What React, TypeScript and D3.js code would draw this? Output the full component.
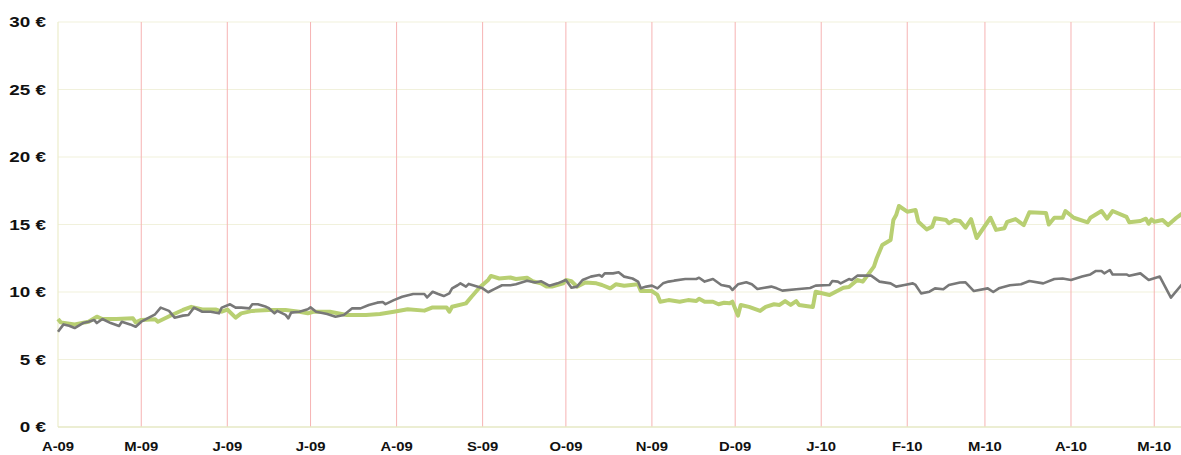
import { useEffect, useRef } from "react";
import * as d3 from "d3";

// Monthly tick labels (first day of each month)
const MONTH_TICKS = [
  "2009-04-01", "2009-05-01", "2009-06-01", "2009-07-01", "2009-08-01",
  "2009-09-01", "2009-10-01", "2009-11-01", "2009-12-01", "2010-01-01",
  "2010-02-01", "2010-03-01", "2010-04-01", "2010-05-01",
];
const MONTH_LABELS = [
  "A-09", "M-09", "J-09", "J-09", "A-09", "S-09", "O-09",
  "N-09", "D-09", "J-10", "F-10", "M-10", "A-10", "M-10",
];
const Y_TICKS = [0, 5, 10, 15, 20, 25, 30];

// green series (thick)
const GREEN: [string, number][] = [
  ["2009-04-01", 8.0], ["2009-04-02", 7.75], ["2009-04-07", 7.6], ["2009-04-12", 7.8],
  ["2009-04-15", 8.17], ["2009-04-17", 8.0], ["2009-04-22", 8.0], ["2009-04-28", 8.05],
  ["2009-04-29", 7.75], ["2009-05-01", 7.93], ["2009-05-06", 7.98], ["2009-05-07", 7.8],
  ["2009-05-12", 8.3], ["2009-05-16", 8.67], ["2009-05-19", 8.9], ["2009-05-23", 8.7],
  ["2009-05-28", 8.7], ["2009-05-30", 8.54], ["2009-06-01", 8.7], ["2009-06-04", 8.1],
  ["2009-06-06", 8.42], ["2009-06-10", 8.6], ["2009-06-16", 8.67], ["2009-06-22", 8.67],
  ["2009-06-24", 8.62], ["2009-06-27", 8.54], ["2009-06-30", 8.42], ["2009-07-02", 8.54],
  ["2009-07-08", 8.54], ["2009-07-14", 8.3], ["2009-07-21", 8.3], ["2009-07-26", 8.37],
  ["2009-07-31", 8.54], ["2009-08-05", 8.72], ["2009-08-11", 8.62], ["2009-08-14", 8.86],
  ["2009-08-19", 8.86], ["2009-08-20", 8.54], ["2009-08-21", 8.91], ["2009-08-26", 9.16],
  ["2009-08-28", 9.65], ["2009-08-31", 10.35], ["2009-09-03", 10.89], ["2009-09-04", 11.19],
  ["2009-09-07", 11.0], ["2009-09-11", 11.07], ["2009-09-13", 10.96], ["2009-09-17", 11.06],
  ["2009-09-19", 10.8], ["2009-09-22", 10.64], ["2009-09-24", 10.4], ["2009-09-26", 10.4],
  ["2009-09-30", 10.64], ["2009-10-01", 10.89], ["2009-10-03", 10.8], ["2009-10-05", 10.4],
  ["2009-10-08", 10.7], ["2009-10-12", 10.64], ["2009-10-14", 10.52], ["2009-10-17", 10.27],
  ["2009-10-19", 10.57], ["2009-10-22", 10.47], ["2009-10-27", 10.57], ["2009-10-28", 10.07],
  ["2009-11-01", 10.07], ["2009-11-03", 9.78], ["2009-11-04", 9.28], ["2009-11-07", 9.4],
  ["2009-11-11", 9.28], ["2009-11-14", 9.4], ["2009-11-17", 9.33], ["2009-11-18", 9.5],
  ["2009-11-20", 9.28], ["2009-11-23", 9.28], ["2009-11-25", 9.09], ["2009-11-27", 9.2],
  ["2009-11-29", 9.16], ["2009-11-30", 9.28], ["2009-12-02", 8.25], ["2009-12-03", 9.04],
  ["2009-12-06", 8.9], ["2009-12-10", 8.6], ["2009-12-12", 8.9], ["2009-12-15", 9.09],
  ["2009-12-17", 9.04], ["2009-12-19", 9.33], ["2009-12-21", 9.04], ["2009-12-23", 9.33],
  ["2009-12-24", 9.04], ["2009-12-29", 8.89], ["2009-12-30", 10.02], ["2010-01-04", 9.78],
  ["2010-01-09", 10.32], ["2010-01-11", 10.37], ["2010-01-14", 10.89], ["2010-01-16", 10.77],
  ["2010-01-20", 11.88], ["2010-01-21", 12.5], ["2010-01-23", 13.48], ["2010-01-26", 13.85],
  ["2010-01-27", 15.33], ["2010-01-28", 15.7], ["2010-01-29", 16.37], ["2010-02-01", 15.95],
  ["2010-02-04", 16.07], ["2010-02-05", 15.2], ["2010-02-08", 14.64], ["2010-02-10", 14.84],
  ["2010-02-11", 15.46], ["2010-02-15", 15.33], ["2010-02-16", 15.1], ["2010-02-18", 15.33],
  ["2010-02-20", 15.26], ["2010-02-22", 14.77], ["2010-02-24", 15.4], ["2010-02-26", 14.0],
  ["2010-03-03", 15.5], ["2010-03-05", 14.6], ["2010-03-08", 14.72], ["2010-03-09", 15.2],
  ["2010-03-12", 15.4], ["2010-03-15", 14.96], ["2010-03-17", 15.9], ["2010-03-23", 15.85],
  ["2010-03-24", 15.0], ["2010-03-26", 15.5], ["2010-03-29", 15.5], ["2010-03-30", 16.0],
  ["2010-04-02", 15.5], ["2010-04-07", 15.16], ["2010-04-08", 15.5], ["2010-04-12", 16.0],
  ["2010-04-14", 15.43], ["2010-04-16", 16.0], ["2010-04-21", 15.56], ["2010-04-22", 15.16],
  ["2010-04-26", 15.26], ["2010-04-28", 15.43], ["2010-04-29", 15.06], ["2010-04-30", 15.38],
  ["2010-05-01", 15.2], ["2010-05-04", 15.33], ["2010-05-06", 14.96], ["2010-05-09", 15.5],
  ["2010-05-11", 15.8],
];

// gray series (thin)
const GRAY: [string, number][] = [
  ["2009-04-01", 7.06], ["2009-04-03", 7.6], ["2009-04-05", 7.5], ["2009-04-07", 7.33],
  ["2009-04-10", 7.7], ["2009-04-12", 7.8], ["2009-04-14", 7.93], ["2009-04-15", 7.7],
  ["2009-04-17", 8.0], ["2009-04-20", 7.7], ["2009-04-23", 7.48], ["2009-04-24", 7.8],
  ["2009-04-27", 7.6], ["2009-04-29", 7.43], ["2009-05-01", 7.8], ["2009-05-06", 8.35],
  ["2009-05-08", 8.84], ["2009-05-11", 8.6], ["2009-05-13", 8.1], ["2009-05-16", 8.25],
  ["2009-05-18", 8.3], ["2009-05-20", 8.84], ["2009-05-23", 8.54], ["2009-05-26", 8.54],
  ["2009-05-29", 8.42], ["2009-05-30", 8.84], ["2009-06-02", 9.09], ["2009-06-04", 8.84],
  ["2009-06-06", 8.84], ["2009-06-09", 8.79], ["2009-06-10", 9.09], ["2009-06-12", 9.09],
  ["2009-06-15", 8.9], ["2009-06-16", 8.8], ["2009-06-18", 8.42], ["2009-06-19", 8.6],
  ["2009-06-22", 8.3], ["2009-06-23", 8.05], ["2009-06-24", 8.47], ["2009-06-27", 8.54],
  ["2009-06-30", 8.72], ["2009-07-01", 8.86], ["2009-07-03", 8.54], ["2009-07-07", 8.37],
  ["2009-07-10", 8.17], ["2009-07-13", 8.3], ["2009-07-16", 8.79], ["2009-07-19", 8.79],
  ["2009-07-22", 9.04], ["2009-07-25", 9.21], ["2009-07-27", 9.26], ["2009-07-28", 9.1],
  ["2009-07-31", 9.4], ["2009-08-03", 9.65], ["2009-08-07", 9.85], ["2009-08-11", 9.85],
  ["2009-08-12", 9.6], ["2009-08-14", 10.02], ["2009-08-16", 9.85], ["2009-08-18", 9.7],
  ["2009-08-20", 9.9], ["2009-08-21", 10.27], ["2009-08-23", 10.5], ["2009-08-24", 10.64],
  ["2009-08-26", 10.4], ["2009-08-27", 10.6], ["2009-08-30", 10.4], ["2009-09-01", 10.27],
  ["2009-09-03", 9.98], ["2009-09-05", 10.2], ["2009-09-08", 10.5], ["2009-09-11", 10.5],
  ["2009-09-13", 10.57], ["2009-09-17", 10.84], ["2009-09-20", 10.7], ["2009-09-22", 10.8],
  ["2009-09-25", 10.47], ["2009-09-28", 10.64], ["2009-10-01", 10.89], ["2009-10-03", 10.32],
  ["2009-10-05", 10.4], ["2009-10-07", 10.89], ["2009-10-10", 11.14], ["2009-10-13", 11.26],
  ["2009-10-14", 11.14], ["2009-10-15", 11.38], ["2009-10-18", 11.38], ["2009-10-20", 11.46],
  ["2009-10-22", 11.14], ["2009-10-25", 11.0], ["2009-10-27", 10.77], ["2009-10-28", 10.27],
  ["2009-10-30", 10.4], ["2009-11-01", 10.47], ["2009-11-03", 10.27], ["2009-11-05", 10.64],
  ["2009-11-07", 10.77], ["2009-11-09", 10.84], ["2009-11-13", 10.96], ["2009-11-17", 10.96],
  ["2009-11-18", 11.06], ["2009-11-20", 10.77], ["2009-11-23", 10.96], ["2009-11-26", 10.52],
  ["2009-11-29", 10.4], ["2009-11-30", 10.15], ["2009-12-02", 10.57], ["2009-12-05", 10.72],
  ["2009-12-07", 10.57], ["2009-12-09", 10.22], ["2009-12-11", 10.3], ["2009-12-14", 10.4],
  ["2009-12-16", 10.27], ["2009-12-18", 10.1], ["2009-12-23", 10.2], ["2009-12-28", 10.3],
  ["2009-12-30", 10.47], ["2010-01-04", 10.52], ["2010-01-05", 10.81], ["2010-01-07", 10.77],
  ["2010-01-08", 10.64], ["2010-01-11", 10.96], ["2010-01-12", 10.89], ["2010-01-14", 11.21],
  ["2010-01-19", 11.21], ["2010-01-22", 10.77], ["2010-01-26", 10.64], ["2010-01-28", 10.4],
  ["2010-01-31", 10.52], ["2010-02-03", 10.64], ["2010-02-04", 10.52], ["2010-02-06", 9.9],
  ["2010-02-09", 10.02], ["2010-02-11", 10.27], ["2010-02-14", 10.2], ["2010-02-16", 10.52],
  ["2010-02-20", 10.7], ["2010-02-22", 10.72], ["2010-02-25", 10.07], ["2010-03-02", 10.27],
  ["2010-03-04", 10.0], ["2010-03-06", 10.27], ["2010-03-10", 10.5], ["2010-03-14", 10.57],
  ["2010-03-17", 10.81], ["2010-03-22", 10.64], ["2010-03-26", 10.96], ["2010-03-29", 11.0],
  ["2010-04-01", 10.89], ["2010-04-05", 11.14], ["2010-04-08", 11.3], ["2010-04-10", 11.56],
  ["2010-04-12", 11.56], ["2010-04-13", 11.38], ["2010-04-15", 11.63], ["2010-04-16", 11.3],
  ["2010-04-21", 11.3], ["2010-04-22", 11.2], ["2010-04-26", 11.38], ["2010-04-29", 10.89],
  ["2010-05-03", 11.14], ["2010-05-07", 9.58], ["2010-05-11", 10.57],
];

const WIDTH = 1181;
const HEIGHT = 455;
const MARGIN = { top: 22, right: 0, bottom: 28, left: 58 };
const START = "2009-04-01";
const END = "2010-05-11";
const FONT = "'Liberation Sans', Arial, sans-serif";

export default function App() {
  const svgRef = useRef<SVGSVGElement | null>(null);

  useEffect(() => {
    const svg = svgRef.current;
    if (!svg) return;
    svg.innerHTML = "";

    const parse = d3.timeParse("%Y-%m-%d");
    const innerH = HEIGHT - MARGIN.top - MARGIN.bottom;

    const x = d3
      .scaleTime()
      .domain([parse(START)!, parse(END)!])
      .range([MARGIN.left, WIDTH + 1]);
    const y = d3
      .scaleLinear()
      .domain([0, 30])
      .range([MARGIN.top + innerH, MARGIN.top]);

    const root = d3.select(svg);

    // horizontal grid
    root
      .append("g")
      .selectAll("line")
      .data(Y_TICKS.filter((t) => t > 0))
      .join("line")
      .attr("x1", MARGIN.left)
      .attr("x2", WIDTH)
      .attr("y1", (d) => y(d))
      .attr("y2", (d) => y(d))
      .attr("stroke", "#f1f1dc")
      .attr("stroke-width", 1.2);

    // vertical month lines
    root
      .append("g")
      .selectAll("line")
      .data(MONTH_TICKS.slice(1))
      .join("line")
      .attr("x1", (d) => x(parse(d)!))
      .attr("x2", (d) => x(parse(d)!))
      .attr("y1", y(30))
      .attr("y2", y(0))
      .attr("stroke", "#f6b3b3")
      .attr("stroke-width", 1);

    // axes lines
    root
      .append("line")
      .attr("x1", MARGIN.left)
      .attr("x2", MARGIN.left)
      .attr("y1", y(30))
      .attr("y2", y(0))
      .attr("stroke", "#ecedcc")
      .attr("stroke-width", 1.2);
    root
      .append("line")
      .attr("x1", MARGIN.left)
      .attr("x2", WIDTH)
      .attr("y1", y(0))
      .attr("y2", y(0))
      .attr("stroke", "#e6e8c4")
      .attr("stroke-width", 1.5);

    // y labels
    root
      .append("g")
      .selectAll("text")
      .data(Y_TICKS)
      .join("text")
      .attr("transform", (d) => `translate(46,${y(d) + 5}) scale(1.3,1)`)
      .attr("text-anchor", "end")
      .style("font-family", FONT)
      .style("font-weight", "bold")
      .style("font-size", "14.5px")
      .attr("fill", "#111")
      .text((d) => `${d} €`);

    // x labels
    root
      .append("g")
      .selectAll("text")
      .data(MONTH_TICKS)
      .join("text")
      .attr("transform", (d) => `translate(${x(parse(d)!)},${y(0) + 24}) scale(1.1,1)`)
      .attr("text-anchor", "middle")
      .style("font-family", FONT)
      .style("font-weight", "bold")
      .style("font-size", "13.5px")
      .attr("fill", "#111")
      .text((_, i) => MONTH_LABELS[i]);

    const line = d3
      .line<[string, number]>()
      .x((d) => x(parse(d[0])!))
      .y((d) => y(d[1]));

    root
      .append("path")
      .datum(GREEN)
      .attr("d", line)
      .attr("fill", "none")
      .attr("stroke", "#b8cf72")
      .attr("stroke-width", 4)
      .attr("stroke-linejoin", "round");

    root
      .append("path")
      .datum(GRAY)
      .attr("d", line)
      .attr("fill", "none")
      .attr("stroke", "#787878")
      .attr("stroke-width", 2.6)
      .attr("stroke-linejoin", "round");
  }, []);

  return (
    <div style={{ position: "fixed", left: 0, top: 0, background: "#fff" }}>
      <svg ref={svgRef} width={WIDTH} height={HEIGHT} style={{ display: "block" }} />
    </div>
  );
}
